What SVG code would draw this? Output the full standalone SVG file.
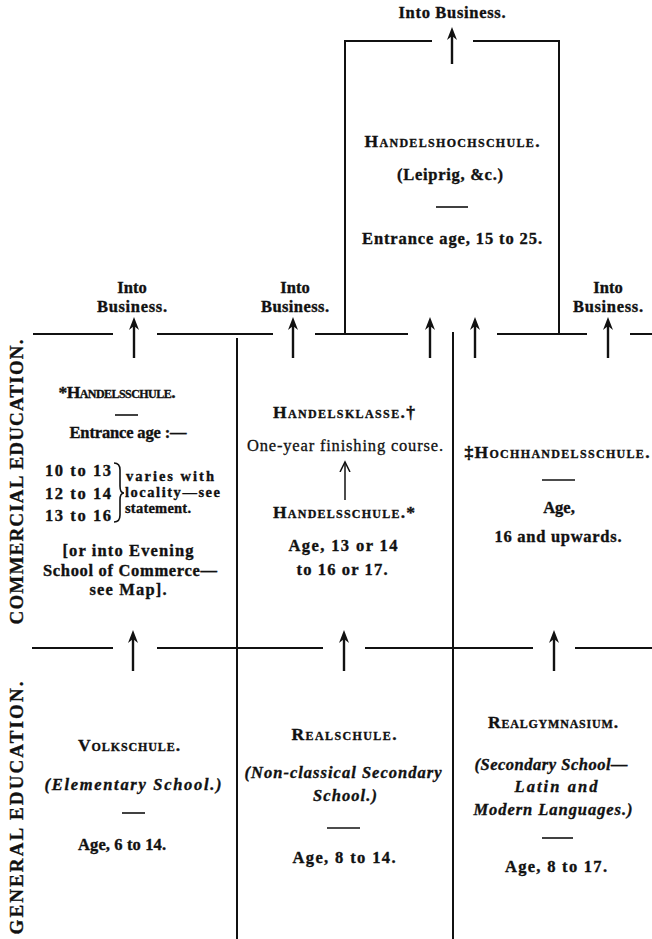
<svg xmlns="http://www.w3.org/2000/svg" width="652" height="939" viewBox="0 0 652 939">
<style>
  text { font-family: "Liberation Serif", "DejaVu Serif", serif; font-weight: bold; fill: #111; stroke: #111; stroke-width: 0.35; text-anchor: middle; font-size: 16.5px; }
  .sc { font-variant: small-caps; font-size: 17.5px; }
  .it { font-style: italic; }
  .reg { font-weight: normal; stroke-width: 0.3; }
  .st { text-anchor: start; font-size: 14.5px; }
  .side { font-size: 19px; }
  .rule { stroke: #111; stroke-width: 2; fill: none; }
  .dash { stroke: #111; stroke-width: 1.6; }
  .arr { stroke: #111; stroke-width: 2.4; marker-end: url(#ah); }
  .thin { stroke: #111; stroke-width: 1.5; marker-end: url(#oh); }
</style>
<defs>
  <marker id="ah" markerUnits="userSpaceOnUse" viewBox="0 -6 14 12" markerWidth="14" markerHeight="12" refX="7" refY="0" orient="auto">
    <path d="M0,-5 L13,0 L0,5 L4,0 Z" fill="#111"/>
  </marker>
  <marker id="oh" markerUnits="userSpaceOnUse" viewBox="0 -6 12 12" markerWidth="12" markerHeight="12" refX="10" refY="0" orient="auto">
    <path d="M0,-5 L10,0 L0,5" fill="none" stroke="#111" stroke-width="1.5"/>
  </marker>
</defs>
<rect width="652" height="939" fill="#fff"/>

<g id="side-labels">
  <text class="side" transform="translate(23,482) rotate(-90)" textLength="285" lengthAdjust="spacing">COMMERCIAL EDUCATION.</text>
  <text class="side" transform="translate(23,808) rotate(-90)" textLength="253" lengthAdjust="spacing">GENERAL EDUCATION.</text>
</g>

<g id="connectors">
  <path class="rule" d="M345,41 H432 M473,41 H560 M345,40 V334 M559,40 V334"/>
  <path class="rule" d="M33,334 H113 M157,334 H273 M315,334 H408 M497,334 H587 M630,334 H652"/>
  <path class="rule" d="M237,338 V939 M453,332 V939"/>
  <path class="rule" d="M32,648 H113 M157,648 H323 M365,648 H533 M575,648 H652"/>
  <line class="arr" x1="452" y1="64" x2="452" y2="33"/>
  <line class="arr" x1="134" y1="358" x2="134" y2="323"/>
  <line class="arr" x1="293" y1="358" x2="293" y2="323"/>
  <line class="arr" x1="430" y1="358" x2="430" y2="323"/>
  <line class="arr" x1="475" y1="358" x2="475" y2="323"/>
  <line class="arr" x1="608" y1="358" x2="608" y2="323"/>
  <line class="arr" x1="133" y1="671" x2="133" y2="636"/>
  <line class="arr" x1="344" y1="671" x2="344" y2="636"/>
  <line class="arr" x1="554" y1="671" x2="554" y2="636"/>
  <line class="thin" x1="345" y1="500" x2="345" y2="462"/>
</g>

<g id="exit-top">
  <text x="452" y="18" textLength="107" lengthAdjust="spacing">Into Business.</text>
</g>
<g id="exit-left">
  <text x="132" y="293">Into</text>
  <text x="132" y="312" textLength="70" lengthAdjust="spacing">Business.</text>
</g>
<g id="exit-mid">
  <text x="295" y="293">Into</text>
  <text x="295" y="312" textLength="68" lengthAdjust="spacing">Business.</text>
</g>
<g id="exit-right">
  <text x="608" y="293">Into</text>
  <text x="608" y="312" textLength="70" lengthAdjust="spacing">Business.</text>
</g>

<g id="handelshochschule">
  <text class="sc" x="452" y="147" textLength="175" lengthAdjust="spacing">Handelshochschule.</text>
  <text x="450" y="180" textLength="106" lengthAdjust="spacing">(Leiprig, &amp;c.)</text>
  <line class="dash" x1="436" y1="207" x2="468" y2="207"/>
  <text x="452" y="244" textLength="180" lengthAdjust="spacing">Entrance age, 15 to 25.</text>
</g>

<g id="handelsschule-left">
  <text class="sc" x="117" y="398" textLength="117" lengthAdjust="spacing">*Handelsschule.</text>
  <line class="dash" x1="115" y1="415" x2="138" y2="415"/>
  <text x="128" y="438" textLength="117" lengthAdjust="spacing">Entrance age :—</text>
  <text x="78" y="476" textLength="66" lengthAdjust="spacing">10 to 13</text>
  <text x="78" y="499" textLength="66" lengthAdjust="spacing">12 to 14</text>
  <text x="78" y="521" textLength="66" lengthAdjust="spacing">13 to 16</text>
  <path d="M114,463 Q120,463 120,470 L120,486 Q120,493 124,493 Q120,493 120,500 L120,515 Q120,522 114,522" fill="none" stroke="#111" stroke-width="1.6"/>
  <text class="st" x="126" y="481" textLength="88" lengthAdjust="spacing">varies with</text>
  <text class="st" x="125" y="497" textLength="95" lengthAdjust="spacing">locality—see</text>
  <text class="st" x="125" y="513" textLength="66" lengthAdjust="spacing">statement.</text>
  <text x="128" y="556" textLength="131" lengthAdjust="spacing">[or into Evening</text>
  <text x="130" y="576" textLength="174" lengthAdjust="spacing">School of Commerce—</text>
  <text x="128" y="595" textLength="77" lengthAdjust="spacing">see Map].</text>
</g>

<g id="handelsklasse">
  <text class="sc" x="344" y="418" textLength="142" lengthAdjust="spacing">Handelsklasse.†</text>
  <text class="reg" x="345" y="451" textLength="196" lengthAdjust="spacing">One-year finishing course.</text>
  <text class="sc" x="344" y="518" textLength="142" lengthAdjust="spacing">Handelsschule.*</text>
  <text x="343" y="551" textLength="109" lengthAdjust="spacing">Age, 13 or 14</text>
  <text x="342" y="575" textLength="91" lengthAdjust="spacing">to 16 or 17.</text>
</g>

<g id="hochhandelsschule">
  <text class="sc" x="557" y="458" textLength="185" lengthAdjust="spacing">‡Hochhandelsschule.</text>
  <line class="dash" x1="542" y1="480" x2="575" y2="480"/>
  <text x="559" y="513">Age,</text>
  <text x="558" y="542" textLength="127" lengthAdjust="spacing">16 and upwards.</text>
</g>

<g id="volkschule">
  <text class="sc" x="129" y="751" textLength="102" lengthAdjust="spacing">Volkschule.</text>
  <text class="it" x="133" y="790" textLength="177" lengthAdjust="spacing">(Elementary School.)</text>
  <line class="dash" x1="122" y1="813" x2="145" y2="813"/>
  <text x="122" y="850" textLength="88" lengthAdjust="spacing">Age, 6 to 14.</text>
</g>

<g id="realschule">
  <text class="sc" x="344" y="740" textLength="105" lengthAdjust="spacing">Realschule.</text>
  <text class="it" x="343" y="778" textLength="197" lengthAdjust="spacing">(Non-classical Secondary</text>
  <text class="it" x="345" y="801" textLength="64" lengthAdjust="spacing">School.)</text>
  <line class="dash" x1="327" y1="828" x2="360" y2="828"/>
  <text x="344" y="863" textLength="103" lengthAdjust="spacing">Age, 8 to 14.</text>
</g>

<g id="realgymnasium">
  <text class="sc" x="553" y="728" textLength="130" lengthAdjust="spacing">Realgymnasium.</text>
  <text class="it" x="551" y="770" textLength="153" lengthAdjust="spacing">(Secondary School—</text>
  <text class="it" x="556" y="792" textLength="83" lengthAdjust="spacing">Latin and</text>
  <text class="it" x="553" y="815" textLength="159" lengthAdjust="spacing">Modern Languages.)</text>
  <line class="dash" x1="542" y1="838" x2="573" y2="838"/>
  <text x="556" y="872" textLength="102" lengthAdjust="spacing">Age, 8 to 17.</text>
</g>
</svg>
